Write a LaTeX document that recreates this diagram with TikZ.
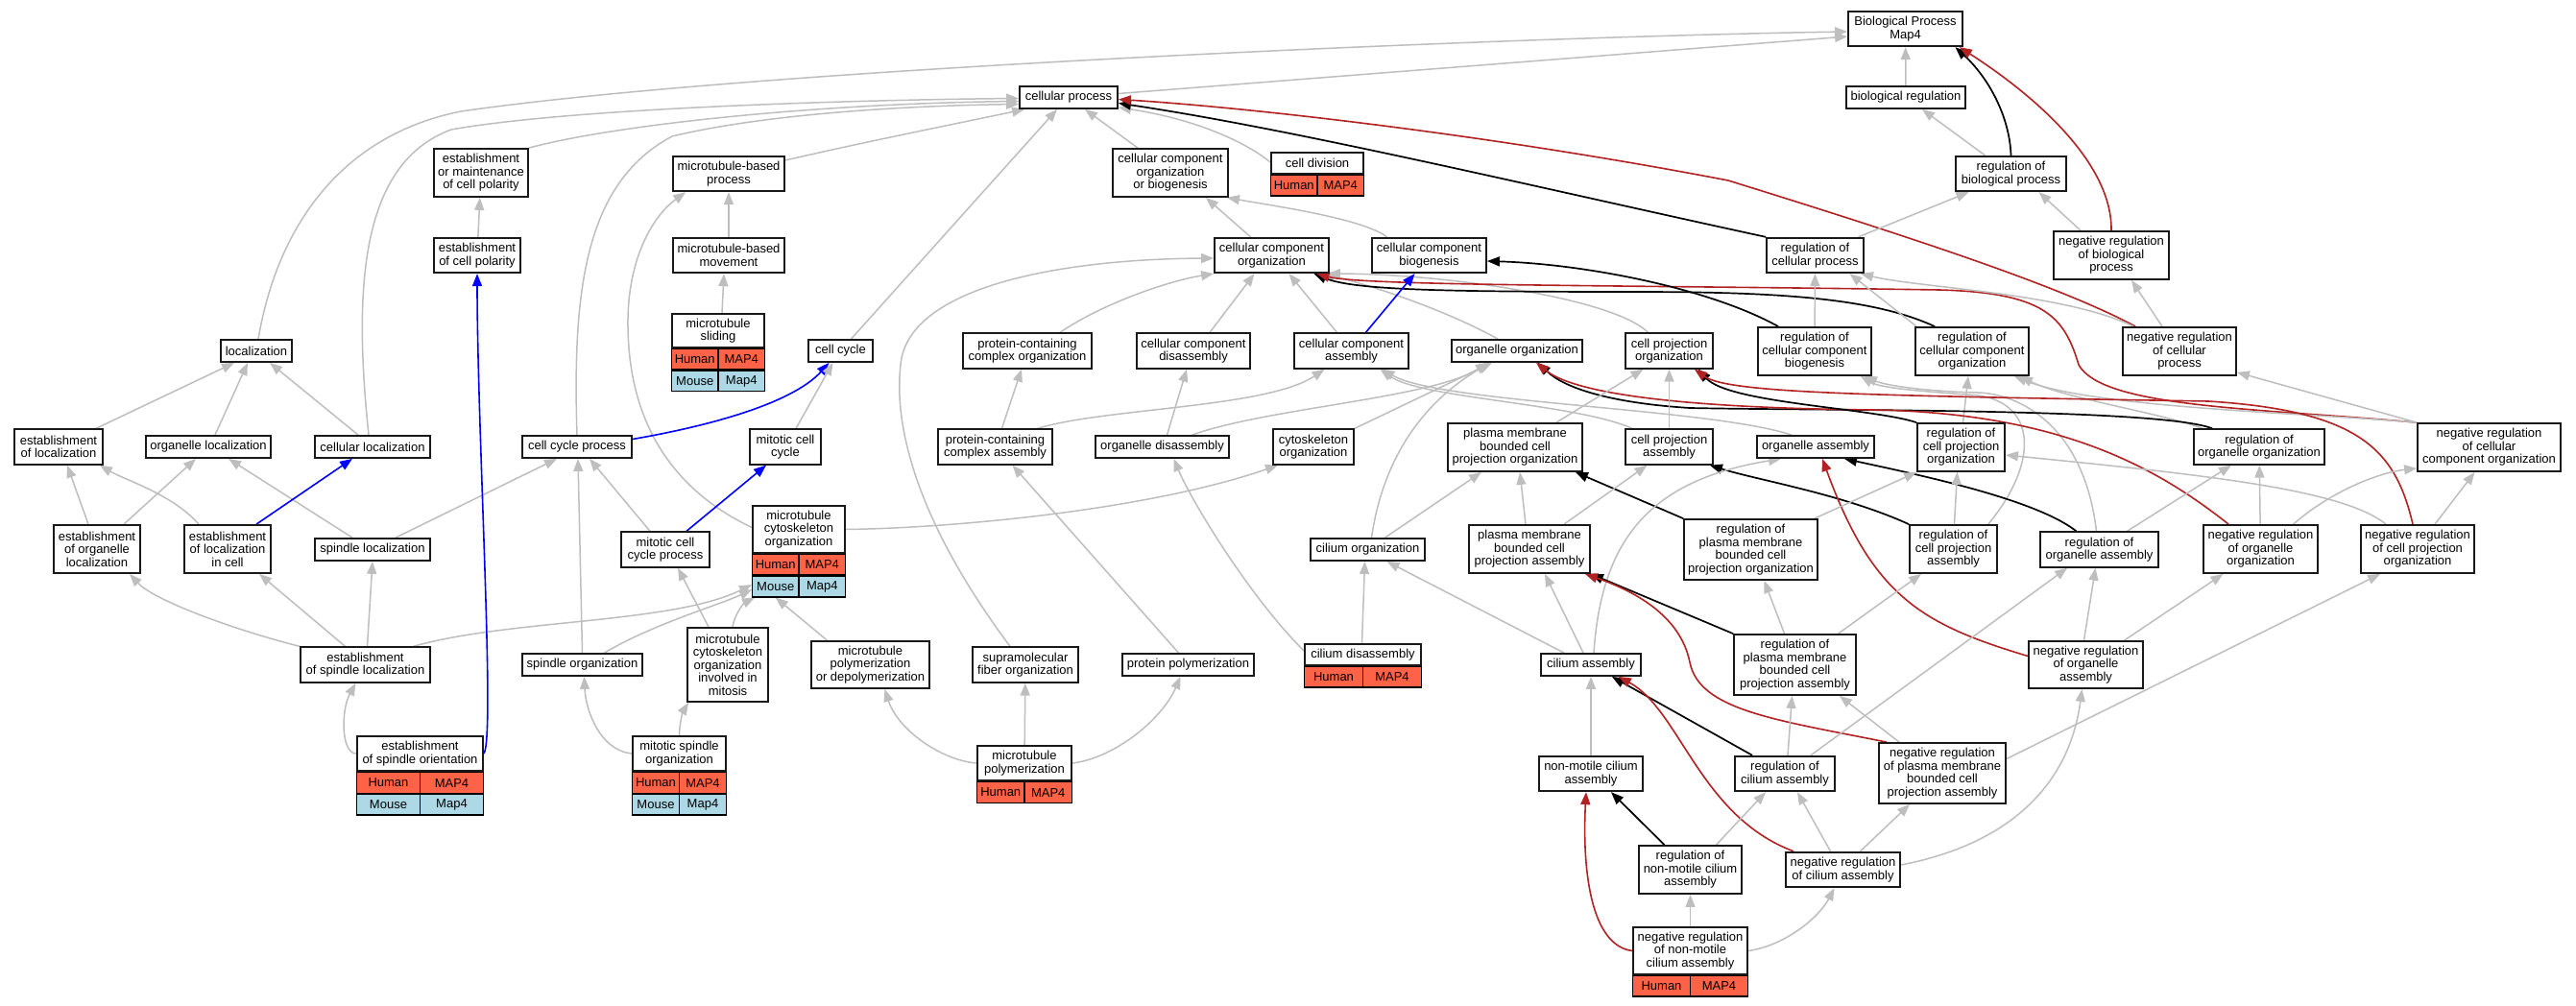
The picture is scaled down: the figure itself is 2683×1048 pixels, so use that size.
\documentclass[tikz,border=0pt]{standalone}
\usepackage{fontspec}
\setmainfont{Liberation Sans}
\usetikzlibrary{arrows.meta,calc}
\definecolor{isagray}{RGB}{190,190,190}
\definecolor{negred}{RGB}{178,34,34}
\definecolor{humancell}{RGB}{255,99,71}
\definecolor{mousecell}{RGB}{173,216,230}
\pgfdeclarelayer{paper}
\pgfdeclarelayer{edges}
\pgfsetlayers{paper,edges,main}

\begin{document}
\begin{tikzpicture}[x=1pt,y=-1pt,
	term/.style={draw=black!90,line width=1.8pt,fill=white,align=center,inner sep=1pt,font=\fontsize{13}{13.5}\selectfont},
	l1/.style={minimum height=23pt},
	l2/.style={minimum height=36.5pt},
	l3/.style={minimum height=50pt},
	l4/.style={minimum height=63pt},
	hcell/.style={draw=black,line width=1.3pt,fill=humancell,minimum height=21.5pt,inner sep=0pt,font=\fontsize{13}{13.5}\selectfont},
	mcell/.style={hcell,fill=mousecell},
	gotip/.style={-{Triangle[length=13pt,width=10pt]}},
	isa/.style={draw=isagray,line width=1.5pt,gotip},
	regs/.style={draw=black,line width=1.7pt,gotip},
	neg/.style={draw=negred,line width=1.6pt,gotip},
	part/.style={draw=blue,line width=1.6pt,gotip}]

	% frame
	\begin{pgfonlayer}{paper}
	\fill[white] (0,0) rectangle (2683,1048);
	\end{pgfonlayer}
	\useasboundingbox (0,0) rectangle (2683,1048);

	% top
	\node[term,l2,minimum width=119pt] (bp) at (1984.5,30) {Biological Process\\Map4};
	\node[term,l1,minimum width=124pt] (breg) at (1985,101.5) {biological regulation};
	\node[term,l1,minimum width=102pt] (cp) at (1113,101.5) {cellular process};

	% rank 2
	\node[term,l3,minimum width=98pt] (emcp) at (501,180) {establishment\\or maintenance\\of cell polarity};
	\node[term,l2,minimum width=116pt] (mtbp) at (759,181) {microtubule-based\\process};
	\node[term,l3,minimum width=120pt] (ccob) at (1219,180) {cellular component\\organization\\or biogenesis};
	\node[term,minimum height=22pt,minimum width=96pt] (celldiv) at (1372,170) {cell division};
	\node[hcell,minimum width=48pt,anchor=north west] (celldivH) at (celldiv.south west) {Human};
	\node[hcell,minimum width=48pt,anchor=north east] (celldivG) at (celldiv.south east) {MAP4};
	\node[term,l2,minimum width=115pt] (regbp) at (2094.5,181) {regulation of\\biological process};

	% rank 3
	\node[term,l2,minimum width=90pt] (ecp) at (497,266) {establishment\\of cell polarity};
	\node[term,l2,minimum width=116pt] (mtbm) at (759,266) {microtubule-based\\movement};
	\node[term,l2,minimum width=119pt] (cco) at (1324.5,266) {cellular component\\organization};
	\node[term,l2,minimum width=119pt] (ccb) at (1488.5,266) {cellular component\\biogenesis};
	\node[term,l2,minimum width=101pt] (regcp) at (1890.5,266) {regulation of\\cellular process};
	\node[term,l3,minimum width=120pt] (negbp) at (2199,266) {negative regulation\\of biological\\process};

	% rank 4
	\node[term,minimum height=35pt,minimum width=96pt] (mtsl) at (748,344.5) {microtubule\\sliding};
	\node[hcell,minimum width=48pt,anchor=north west] (mtslH) at (mtsl.south west) {Human};
	\node[hcell,minimum width=48pt,anchor=north east] (mtslG) at (mtsl.south east) {MAP4};
	\node[mcell,minimum width=48pt,anchor=north west] (mtslM) at (mtslH.south west) {Mouse};
	\node[mcell,minimum width=48pt,anchor=north east] (mtslN) at (mtslG.south east) {Map4};
	\node[term,l1,minimum width=74pt] (loc) at (267,365.5) {localization};
	\node[term,l1,minimum width=67pt] (cc) at (875.5,365.5) {cell cycle};
	\node[term,l2,minimum width=134pt] (pcco) at (1070,365.5) {protein-containing\\complex organization};
	\node[term,l2,minimum width=118pt] (ccd) at (1243,365.5) {cellular component\\disassembly};
	\node[term,l2,minimum width=119pt] (cca) at (1407.5,365.5) {cellular component\\assembly};
	\node[term,l1,minimum width=136pt] (oo) at (1580,365.5) {organelle organization};
	\node[term,l2,minimum width=91pt] (cpo) at (1738.5,365.5) {cell projection\\organization};
	\node[term,l3,minimum width=118pt] (regccb) at (1890,366) {regulation of\\cellular component\\biogenesis};
	\node[term,l3,minimum width=118pt] (regcco) at (2054,366) {regulation of\\cellular component\\organization};
	\node[term,l3,minimum width=118pt] (negcp) at (2270,366) {negative regulation\\of cellular\\process};

	% rank 5
	\node[term,l2,minimum width=92pt] (eloc) at (61,465.5) {establishment\\of localization};
	\node[term,l1,minimum width=130pt] (oloc) at (217,465.5) {organelle localization};
	\node[term,l1,minimum width=120pt] (cloc) at (388,465.5) {cellular localization};
	\node[term,l1,minimum width=114pt] (ccp) at (601,465.5) {cell cycle process};
	\node[term,l2,minimum width=74pt] (mcc) at (818,465.5) {mitotic cell\\cycle};
	\node[term,l2,minimum width=119pt] (pcca) at (1036.5,465.5) {protein-containing\\complex assembly};
	\node[term,l1,minimum width=139pt] (od) at (1210.5,465.5) {organelle disassembly};
	\node[term,l2,minimum width=84pt] (cyto) at (1368,465.5) {cytoskeleton\\organization};
	\node[term,l3,minimum width=140pt] (pmbcpo) at (1578,466) {plasma membrane\\bounded cell\\projection organization};
	\node[term,l2,minimum width=91pt] (cpa) at (1738.5,465.5) {cell projection\\assembly};
	\node[term,l1,minimum width=122pt] (oa) at (1891,465.5) {organelle assembly};
	\node[term,l3,minimum width=91pt] (regcpo) at (2042.5,466) {regulation of\\cell projection\\organization};
	\node[term,l2,minimum width=136pt] (regoo) at (2353,465.5) {regulation of\\organelle organization};
	\node[term,l3,minimum width=149pt] (negcco) at (2592.5,466) {negative regulation\\of cellular\\component organization};

	% rank 6
	\node[term,l3,minimum width=90pt] (eoloc) at (101,572) {establishment\\of organelle\\localization};
	\node[term,l3,minimum width=90pt] (elocc) at (237,572) {establishment\\of localization\\in cell};
	\node[term,l1,minimum width=120pt] (sloc) at (388,572.5) {spindle localization};
	\node[term,l2,minimum width=92pt] (mccp) at (693,572.5) {mitotic cell\\cycle process};
	\node[term,minimum height=49pt,minimum width=96pt] (mtco) at (832,551.5) {microtubule\\cytoskeleton\\organization};
	\node[hcell,minimum width=48pt,anchor=north west] (mtcoH) at (mtco.south west) {Human};
	\node[hcell,minimum width=48pt,anchor=north east] (mtcoG) at (mtco.south east) {MAP4};
	\node[mcell,minimum width=48pt,anchor=north west] (mtcoM) at (mtcoH.south west) {Mouse};
	\node[mcell,minimum width=48pt,anchor=north east] (mtcoN) at (mtcoG.south east) {Map4};
	\node[term,l1,minimum width=119pt] (ciliumo) at (1424.5,572.5) {cilium organization};
	\node[term,l3,minimum width=126pt] (pmbcpa) at (1593,572) {plasma membrane\\bounded cell\\projection assembly};
	\node[term,l4,minimum width=139pt] (regpmbcpo) at (1823.5,572.5) {regulation of\\plasma membrane\\bounded cell\\projection organization};
	\node[term,l3,minimum width=91pt] (regcpa) at (2034.5,572) {regulation of\\cell projection\\assembly};
	\node[term,l2,minimum width=123pt] (regoa) at (2186.5,572.5) {regulation of\\organelle assembly};
	\node[term,l3,minimum width=119pt] (negoo) at (2354.5,572) {negative regulation\\of organelle\\organization};
	\node[term,l3,minimum width=118pt] (negcpo) at (2518,572) {negative regulation\\of cell projection\\organization};

	% rank 7
	\node[term,l2,minimum width=135pt] (esloc) at (380.5,692.5) {establishment\\of spindle localization};
	\node[term,l1,minimum width=125pt] (so) at (606.5,692.5) {spindle organization};
	\node[term,minimum height=77pt,minimum width=84pt] (mtcom) at (758,692.5) {microtubule\\cytoskeleton\\organization\\involved in\\mitosis};
	\node[term,minimum height=49pt,minimum width=123pt] (mtpd) at (906.5,692.5) {microtubule\\polymerization\\or depolymerization};
	\node[term,l2,minimum width=110pt] (sfo) at (1068,692.5) {supramolecular\\fiber organization};
	\node[term,l1,minimum width=137pt] (pp) at (1237.5,692.5) {protein polymerization};
	\node[term,minimum height=22pt,minimum width=121pt] (cd) at (1419.5,682) {cilium disassembly};
	\node[hcell,minimum width=60.5pt,anchor=north west] (cdH) at (cd.south west) {Human};
	\node[hcell,minimum width=60.5pt,anchor=north east] (cdG) at (cd.south east) {MAP4};
	\node[term,l1,minimum width=104pt] (ca) at (1657,692.5) {cilium assembly};
	\node[term,l4,minimum width=127pt] (regpmbcpa) at (1869.5,692.5) {regulation of\\plasma membrane\\bounded cell\\projection assembly};
	\node[term,minimum height=49pt,minimum width=119pt] (negoa) at (2172.5,692.5) {negative regulation\\of organelle\\assembly};

	% rank 8
	\node[term,l2,minimum width=131pt] (eso) at (437.5,785) {establishment\\of spindle orientation};
	\node[hcell,minimum width=65.5pt,anchor=north west] (esoH) at (eso.south west) {Human};
	\node[hcell,minimum width=65.5pt,anchor=north east] (esoG) at (eso.south east) {MAP4};
	\node[mcell,minimum width=65.5pt,anchor=north west] (esoM) at (esoH.south west) {Mouse};
	\node[mcell,minimum width=65.5pt,anchor=north east] (esoN) at (esoG.south east) {Map4};
	\node[term,l2,minimum width=97pt] (mso) at (707.5,785) {mitotic spindle\\organization};
	\node[hcell,minimum width=48.5pt,anchor=north west] (msoH) at (mso.south west) {Human};
	\node[hcell,minimum width=48.5pt,anchor=north east] (msoG) at (mso.south east) {MAP4};
	\node[mcell,minimum width=48.5pt,anchor=north west] (msoM) at (msoH.south west) {Mouse};
	\node[mcell,minimum width=48.5pt,anchor=north east] (msoN) at (msoG.south east) {Map4};
	\node[term,l2,minimum width=98pt] (mtp) at (1067,795) {microtubule\\polymerization};
	\node[hcell,minimum width=49pt,anchor=north west] (mtpH) at (mtp.south west) {Human};
	\node[hcell,minimum width=49pt,anchor=north east] (mtpG) at (mtp.south east) {MAP4};
	\node[term,l2,minimum width=108pt] (nmca) at (1657,806) {non-motile cilium\\assembly};
	\node[term,l2,minimum width=104pt] (regca) at (1859,806) {regulation of\\cilium assembly};
	\node[term,l4,minimum width=132pt] (negpmbcpa) at (2023,805.5) {negative regulation\\of plasma membrane\\bounded cell\\projection assembly};

	% rank 9 and 10
	\node[term,l3,minimum width=107pt] (regnmca) at (1760.5,906) {regulation of\\non-motile cilium\\assembly};
	\node[term,l2,minimum width=119pt] (negca) at (1919.5,906) {negative regulation\\of cilium assembly};
	\node[term,minimum height=49pt,minimum width=119pt] (negnmca) at (1760.5,990.5) {negative regulation\\of non-motile\\cilium assembly};
	\node[hcell,minimum width=59.5pt,anchor=north west] (negnmcaH) at (negnmca.south west) {Human};
	\node[hcell,minimum width=59.5pt,anchor=north east] (negnmcaG) at (negnmca.south east) {MAP4};

	\begin{pgfonlayer}{edges}
	% to Biological Process
	\draw[isa] ($(loc.north)+(2,0)$) .. controls (290,230) and (360,140) .. (480,116) .. controls (800,70) and (1600,38) .. ($(bp.west)+(0,3)$);
	\draw[isa] ($(cp.east)+(0,-4)$) -- ($(bp.west)+(0,8)$);
	\draw[isa] (breg) -- (bp);
	\draw[regs] (regbp.north) .. controls (2093,120) and (2070,80) .. ($(bp.south)+(52,0)$);
	\draw[neg] (negbp.north) .. controls (2200,170) and (2120,100) .. ($(bp.south east)+(-4,0)$);

	% to cellular process
	\draw[isa] ($(cloc.north)+(-4,0)$) .. controls (368,300) and (375,170) .. (470,135) .. controls (600,112) and (900,104) .. ($(cp.west)+(0,1)$);
	\draw[isa] (emcp.north east) .. controls (640,130) and (850,108) .. ($(cp.west)+(0,4)$);
	\draw[isa] (ccp.north) .. controls (596,300) and (610,190) .. (700,142) .. controls (800,118) and (950,110) .. ($(cp.west)+(0,7)$);
	\draw[isa] ($(mtbp.east)+(0,-14)$) .. controls (900,148) and (1000,128) .. ($(cp.south west)+(6,0)$);
	\draw[isa] ($(cc.north)+(11,0)$) -- ($(cp.south)+(-12,0)$);
	\draw[isa] ($(ccob.north)+(-34,0)$) -- ($(cp.south)+(17,0)$);
	\draw[isa] ($(celldiv.west)+(0,-1)$) .. controls (1300,150) and (1250,125) .. ($(cp.south east)+(0,-2)$);
	\draw[regs] (regcp.north west) .. controls (1600,195) and (1350,135) .. ($(cp.east)+(0,6)$);
	\draw[neg] ($(negcp.north west)+(14,0)$) .. controls (2150,300) and (2000,250) .. (1800,188) .. controls (1550,140) and (1300,112) .. ($(cp.east)+(0,2)$);

	% upper branches
	\draw[isa] ($(cco.north)+(-22,0)$) -- ($(ccob.south)+(37,0)$);
	\draw[isa] ($(ccb.north)+(-44,0)$) .. controls (1420,228) and (1330,215) .. ($(ccob.south east)+(-2,0)$);
	\draw[isa] (ecp) -- (emcp);
	\draw[isa] (mtbm) -- (mtbp);
	\draw[isa] ($(mtco.west)+(0,-2)$) .. controls (700,510) and (655,440) .. (654,340) .. controls (653,270) and (680,225) .. ($(mtbp.south west)+(14,0)$);
	\draw[isa] ($(mtsl.north)+(4,0)$) -- ($(mtbm.south)+(-5,0)$);

	% to cellular component organization
	\draw[isa] ($(sfo.north)+(-16,0)$) .. controls (960,550) and (930,450) .. (938,380) .. controls (945,300) and (1100,270) .. ($(cco.west)+(0,3)$);
	\draw[isa] ($(pcco.north)+(34,0)$) .. controls (1150,315) and (1220,292) .. (cco.south west);
	\draw[isa] ($(ccd.north)+(17,0)$) -- ($(cco.south)+(-18,0)$);
	\draw[isa] ($(cca.north)+(-15,0)$) -- ($(cco.south)+(18,0)$);
	\draw[isa] ($(oo.north)+(-20,0)$) .. controls (1500,320) and (1420,295) .. ($(cco.south east)+(-8,0)$);
	\draw[isa] ($(cpo.north)+(-22,0)$) .. controls (1680,310) and (1500,285) .. ($(cco.south east)+(-2,0)$);
	\draw[regs] ($(regcco.north west)+(21,0)$) .. controls (1950,310) and (1850,304) .. (1700,304) .. controls (1500,304) and (1410,302) .. ($(cco.south)+(44,0)$);
	\draw[neg] (negcco.north west) .. controls (2350,425) and (2190,425) .. (2165,380) .. controls (2150,330) and (2130,305) .. (2020,302) .. controls (1700,297) and (1420,298) .. ($(cco.south)+(47,0)$);

	% to biogenesis
	\draw[part] ($(cca.north)+(15,0)$) -- ($(ccb.south)+(-15,0)$);
	\draw[regs] ($(regccb.north west)+(22,0)$) .. controls (1780,300) and (1650,275) .. ($(ccb.east)+(0,6)$);

	% regulation
	\draw[isa] (regccb) -- (regcp);
	\draw[isa] ($(regcco.north west)+(2,0)$) -- ($(regcp.south)+(36,0)$);
	\draw[isa] ($(negcp.north west)+(12,0)$) .. controls (2150,305) and (2000,300) .. ($(regcp.south east)+(-4,0)$);
	\draw[isa] ($(regcp.north)+(45,0)$) -- ($(regbp.south)+(-44,0)$);
	\draw[isa] ($(negbp.north)+(-32,0)$) -- ($(regbp.south)+(29,0)$);
	\draw[isa] ($(negcp.north)+(-18,0)$) -- ($(negbp.south)+(21,0)$);
	\draw[isa] ($(regbp.north)+(-27,0)$) -- ($(breg.south)+(17,0)$);
	\draw[isa] (negcco.north west) -- ($(negcp.south east)+(0,-4)$);
	\draw[isa] ($(regcpo.north)+(2,0)$) -- ($(regcco.south)+(-4,0)$);
	\draw[isa] ($(regoo.north west)+(10,0)$) .. controls (2250,430) and (2150,415) .. ($(regcco.south east)+(-10,0)$);
	\draw[isa] (negcco.north west) .. controls (2400,430) and (2180,425) .. ($(regcco.south east)+(-16,0)$);
	\draw[isa] ($(regcpa.north east)+(-10,0)$) .. controls (2125,480) and (2120,420) .. (2060,412) .. controls (2010,408) and (1960,405) .. ($(regccb.south east)+(-12,0)$);
	\draw[isa] ($(regoa.north)+(-3,0)$) .. controls (2170,440) and (2100,410) .. (2060,409) .. controls (2010,408) and (1965,402) .. ($(regccb.south east)+(-8,0)$);

	% localization
	\draw[isa] ($(eloc.north)+(39,0)$) -- ($(loc.south)+(-23,0)$);
	\draw[isa] ($(oloc.north)+(7,0)$) -- ($(loc.south)+(-9,0)$);
	\draw[isa] ($(cloc.north)+(-15,0)$) -- ($(loc.south)+(14,0)$);
	\draw[isa] ($(eoloc.north)+(-9,0)$) -- ($(eloc.south)+(9,0)$);
	\draw[isa] ($(elocc.north)+(-30,0)$) .. controls (180,515) and (130,500) .. ($(eloc.south east)+(-4,0)$);
	\draw[isa] ($(eoloc.north)+(28,0)$) -- ($(oloc.south)+(-13,0)$);
	\draw[isa] ($(sloc.north)+(-21,0)$) -- ($(oloc.south)+(21,0)$);
	\draw[part] ($(elocc.north)+(30,0)$) -- ($(cloc.south)+(-21,0)$);

	% cell cycle
	\draw[part] ($(ccp.east)+(0,-8)$) .. controls (760,440) and (830,415) .. ($(cc.south)+(-12,0)$);
	\draw[isa] ($(mcc.north)+(11,0)$) -- ($(cc.south)+(-8,0)$);
	\draw[isa] ($(sloc.north)+(24,0)$) -- ($(ccp.south)+(-21,0)$);
	\draw[isa] ($(mccp.north)+(-16,0)$) -- ($(ccp.south)+(13,0)$);
	\draw[isa] (so.north) -- ($(ccp.south)+(1,0)$);
	\draw[part] ($(mccp.north)+(22,0)$) -- ($(mcc.south)+(-20,0)$);

	% spindle
	\draw[isa] (esloc.north west) .. controls (240,655) and (160,625) .. ($(eoloc.south)+(34,0)$);
	\draw[isa] ($(esloc.north)+(-21,0)$) -- ($(elocc.south)+(33,0)$);
	\draw[isa] ($(esloc.north)+(2,0)$) -- (sloc.south);
	\draw[isa] ($(esloc.north)+(50,0)$) .. controls (530,645) and (700,650) .. ($(mtcoM.west)+(0,-2)$);
	\draw[isa] ($(so.north)+(23,0)$) .. controls (680,650) and (750,630) .. ($(mtcoM.west)+(0,3)$);
	\draw[isa] ($(mtcom.north)+(5,0)$) .. controls (765,640) and (775,628) .. ($(mtcoM.south west)+(3,0)$);
	\draw[isa] ($(mtpd.north)+(-45,0)$) -- (mtcoM.south);
	\draw[isa] ($(mtcom.north)+(-20,0)$) -- ($(mccp.south)+(13,0)$);
	\draw[isa] (mtco.east) .. controls (1000,550) and (1200,530) .. ($(cyto.south west)+(6,0)$);

	% assembly and disassembly
	\draw[isa] ($(pcca.north)+(7,0)$) -- ($(pcco.south)+(-6,0)$);
	\draw[isa] ($(od.north)+(5,0)$) -- ($(ccd.south)+(-7,0)$);
	\draw[isa] ($(pcca.north)+(44,0)$) .. controls (1150,425) and (1320,425) .. ($(cca.south)+(-28,0)$);
	\draw[isa] ($(cpa.north west)+(8,0)$) .. controls (1640,420) and (1480,415) .. ($(cca.south)+(30,0)$);
	\draw[isa] ($(oa.north)+(-25,0)$) .. controls (1780,425) and (1500,420) .. ($(cca.south)+(32,0)$);

	% organelle organization
	\draw[isa] (cyto.north east) -- ($(oo.south)+(-26,0)$);
	\draw[isa] ($(od.north)+(31,0)$) .. controls (1320,425) and (1490,415) .. ($(oo.south)+(-30,0)$);
	\draw[isa] ($(ciliumo.north)+(4,0)$) .. controls (1440,480) and (1480,420) .. ($(oo.south)+(-28,0)$);
	\draw[regs] ($(regoo.north west)+(20,0)$) .. controls (2250,425) and (1900,428) .. (1760,425) .. controls (1680,420) and (1630,405) .. ($(oo.south)+(22,0)$);
	\draw[neg] ($(negoo.north west)+(27,0)$) .. controls (2250,490) and (2150,430) .. (1950,427) .. controls (1750,425) and (1640,410) .. ($(oo.south)+(20,0)$);

	% cell projection organization
	\draw[isa] ($(pmbcpo.north)+(43,0)$) -- ($(cpo.south)+(-27,0)$);
	\draw[isa] (cpa) -- (cpo);
	\draw[regs] (regcpo.north west) .. controls (1950,425) and (1800,420) .. ($(cpo.south east)+(-16,0)$);
	\draw[neg] ($(negcpo.north)+(-5,0)$) .. controls (2495,470) and (2460,428) .. (2300,418) .. controls (1950,412) and (1800,410) .. ($(cpo.south east)+(-20,0)$);
	\draw[isa] ($(ciliumo.north)+(18,0)$) -- ($(pmbcpo.south)+(-35,0)$);
	\draw[isa] ($(pmbcpa.north)+(-4,0)$) -- ($(pmbcpo.south)+(5,0)$);
	\draw[regs] (regpmbcpo.north west) -- ($(pmbcpo.south east)+(-8,0)$);
	\draw[isa] ($(pmbcpa.north)+(36,0)$) -- ($(cpa.south)+(-23,0)$);
	\draw[regs] (regcpa.north west) .. controls (1920,515) and (1830,500) .. ($(cpa.south east)+(-4,0)$);

	% organelle assembly
	\draw[isa] ($(ca.north)+(3,0)$) .. controls (1668,560) and (1720,500) .. ($(oa.south)+(-36,0)$);
	\draw[regs] ($(regoa.north)+(-24,0)$) .. controls (2120,520) and (2000,495) .. ($(oa.south)+(30,0)$);
	\draw[neg] ($(negoa.west)+(0,-9)$) .. controls (2000,650) and (1950,620) .. ($(oa.south)+(7,0)$);

	% cilium
	\draw[isa] ($(cd.north)+(-1,0)$) -- ($(ciliumo.south)+(-3,0)$);
	\draw[isa] ($(ca.north)+(-28,0)$) -- ($(ciliumo.south)+(20,0)$);
	\draw[isa] ($(ca.north)+(-8,0)$) -- ($(pmbcpa.south)+(16,0)$);
	\draw[regs] (regpmbcpa.north west) -- (pmbcpa.south east);
	\draw[neg] ($(negpmbcpa.north west)+(9,0)$) .. controls (1850,750) and (1770,740) .. (1760,690) .. controls (1750,640) and (1700,615) .. ($(pmbcpa.south east)+(-6,0)$);

	% regulation, lower
	\draw[isa] ($(regpmbcpa.north)+(-11,0)$) -- ($(regpmbcpo.south)+(14,0)$);
	\draw[isa] ($(regpmbcpo.north east)+(-4,0)$) -- (regcpo.south west);
	\draw[isa] ($(regcpa.north)+(1,0)$) -- ($(regcpo.south)+(-4,0)$);
	\draw[isa] ($(negcpo.north west)+(27,0)$) .. controls (2440,510) and (2300,495) .. ($(regcpo.east)+(0,8)$);
	\draw[isa] ($(regoa.north)+(29,0)$) -- ($(regoo.south)+(-29,0)$);
	\draw[isa] (negoo) -- (regoo);
	\draw[isa] ($(negoo.north)+(34,0)$) .. controls (2430,510) and (2480,492) .. ($(negcco.south west)+(0,-4)$);
	\draw[isa] ($(negcpo.north)+(18,0)$) -- ($(negcco.south)+(-15,0)$);
	\draw[isa] ($(regpmbcpa.north)+(45,0)$) -- ($(regcpa.south west)+(13,0)$);
	\draw[isa] ($(negoa.north)+(-2,0)$) -- ($(regoa.south)+(-4,0)$);
	\draw[isa] ($(regca.north east)+(-26,0)$) -- ($(regoa.south west)+(29,0)$);
	\draw[isa] ($(negoa.north)+(40,0)$) -- ($(negoo.south)+(-39,0)$);
	\draw[isa] ($(negpmbcpa.east)+(0,-15)$) -- ($(negcpo.south west)+(21,0)$);

	% cilium assembly
	\draw[isa] (nmca) -- (ca);
	\draw[regs] ($(regca.north west)+(19,0)$) -- ($(ca.south east)+(-31,0)$);
	\draw[neg] ($(negca.north west)+(9,0)$) .. controls (1770,850) and (1750,740) .. ($(ca.south east)+(-24,0)$);
	\draw[regs] ($(regnmca.north)+(-27,0)$) -- ($(nmca.south)+(21,0)$);
	\draw[neg] (negnmca.west) .. controls (1655,985) and (1648,900) .. ($(nmca.south)+(-5,0)$);
	\draw[isa] ($(regnmca.north)+(27,0)$) -- ($(regca.south)+(-20,0)$);
	\draw[isa] ($(negca.north)+(-13,0)$) -- ($(regca.south)+(13,0)$);
	\draw[isa] ($(regca.north)+(3,0)$) -- ($(regpmbcpa.south)+(-3,0)$);
	\draw[isa] ($(negpmbcpa.north west)+(22,0)$) -- ($(regpmbcpa.south east)+(-18,0)$);
	\draw[isa] ($(negca.north)+(18,0)$) -- ($(negpmbcpa.south)+(-34,0)$);
	\draw[isa] ($(negca.east)+(0,-5)$) .. controls (2090,880) and (2155,820) .. ($(negoa.south)+(-4,0)$);
	\draw[isa] (negnmca) -- (regnmca);
	\draw[isa] (negnmca.east) .. controls (1860,985) and (1895,955) .. ($(negca.south)+(-9,0)$);

	% bottom left
	\draw[isa] (eso.west) .. controls (355,785) and (355,740) .. ($(esloc.south)+(-10,0)$);
	\draw[part] (eso.east) .. controls (516,770) and (497,450) .. (ecp.south);
	\draw[isa] (mso.west) .. controls (625,782) and (610,740) .. ($(so.south)+(2,0)$);
	\draw[isa] (mso.north) .. controls (708,750) and (712,740) .. ($(mtcom.south west)+(2,0)$);
	\draw[isa] (mtp.west) .. controls (980,792) and (935,760) .. ($(mtpd.south)+(15,0)$);
	\draw[isa] (mtp) -- (sfo);
	\draw[isa] (mtp.east) .. controls (1160,790) and (1210,750) .. ($(pp.south)+(-8,0)$);
	\draw[isa] ($(cd.west)+(0,-4)$) .. controls (1300,620) and (1240,520) .. ($(od.south)+(12,0)$);
	\draw[isa] ($(pp.north)+(-10,0)$) -- ($(pcca.south)+(18,0)$);
	\end{pgfonlayer}

\end{tikzpicture}
\end{document}
